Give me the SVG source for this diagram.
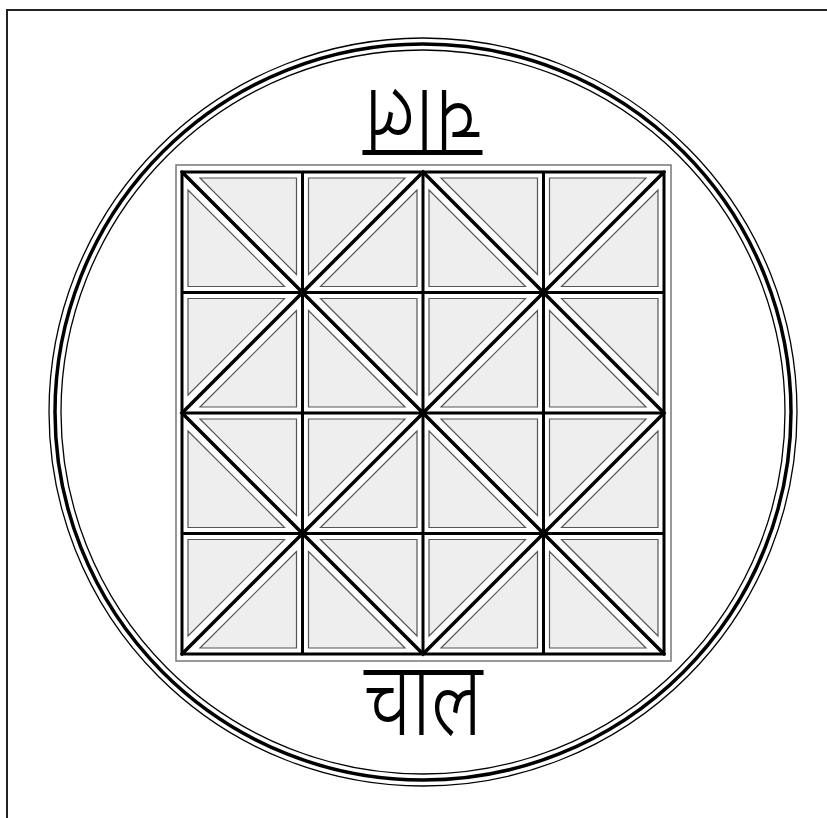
<svg xmlns="http://www.w3.org/2000/svg" xmlns:xlink="http://www.w3.org/1999/xlink" width="827" height="818" viewBox="0 0 827 818">
<style>
.tri{fill:#eeeeee;stroke:#555555;stroke-width:1.2}
.grid{stroke:#000;stroke-width:3;stroke-linecap:square;fill:none}
.diag{stroke:#000;stroke-width:3.5;stroke-linecap:round;fill:none}
.ring{fill:none;stroke:#000}
.lbl{font-family:"Noto Sans Devanagari","Lohit Devanagari","FreeSans","Noto Sans",sans-serif;font-size:80px;font-weight:300;fill:#000;text-anchor:middle}
</style>
<defs>
<g id="cellA">
<polygon class="tri" points="18,6 114.5,6 114.5,102.5"/>
<polygon class="tri" points="6,18 6,114.5 102.5,114.5"/>
</g>
<g id="cellB">
<polygon class="tri" points="102.5,6 6,6 6,102.5"/>
<polygon class="tri" points="114.5,18 114.5,114.5 18,114.5"/>
</g>
</defs>
<rect width="827" height="818" fill="#fff"/>
<rect id="border" x="7" y="10" width="900" height="900" fill="none" stroke="#222" stroke-width="2"/>
<g id="rings">
<circle class="ring" cx="423" cy="412" r="374" stroke-width="1.3"/>
<circle class="ring" cx="423" cy="412" r="368" stroke-width="3.5"/>
<circle class="ring" cx="423" cy="412" r="362" stroke-width="1.3"/>
</g>
<rect id="frame" x="176" y="165" width="495" height="496" fill="#fff" stroke="#777" stroke-width="1.5"/>
<g id="cells">
<use id="c00" xlink:href="#cellA" x="182" y="172"/>
<use id="c01" xlink:href="#cellB" x="302.5" y="172"/>
<use id="c02" xlink:href="#cellA" x="423" y="172"/>
<use id="c03" xlink:href="#cellB" x="543.5" y="172"/>
<use id="c10" xlink:href="#cellB" x="182" y="292.5"/>
<use id="c11" xlink:href="#cellA" x="302.5" y="292.5"/>
<use id="c12" xlink:href="#cellB" x="423" y="292.5"/>
<use id="c13" xlink:href="#cellA" x="543.5" y="292.5"/>
<use id="c20" xlink:href="#cellA" x="182" y="413"/>
<use id="c21" xlink:href="#cellB" x="302.5" y="413"/>
<use id="c22" xlink:href="#cellA" x="423" y="413"/>
<use id="c23" xlink:href="#cellB" x="543.5" y="413"/>
<use id="c30" xlink:href="#cellB" x="182" y="533.5"/>
<use id="c31" xlink:href="#cellA" x="302.5" y="533.5"/>
<use id="c32" xlink:href="#cellB" x="423" y="533.5"/>
<use id="c33" xlink:href="#cellA" x="543.5" y="533.5"/>
</g>
<g id="lines">
<path class="grid" d="M182,172V654M302.5,172V654M423,172V654M543.5,172V654M664,172V654M182,172H664M182,292.5H664M182,413H664M182,533.5H664M182,654H664"/>
<path class="diag" d="M182,172L423,413L182,654M423,172L664,413L423,654M182,413L302.5,292.5L423,413L302.5,533.5Z M423,413L543.5,292.5L664,413L543.5,533.5Z M302.5,292.5L423,172L543.5,292.5 M302.5,533.5L423,654L543.5,533.5 M543.5,292.5L664,172 M543.5,533.5L664,654"/>
</g>
<g id="labels">
<g id="label-bottom" transform="translate(0,675) scale(1,1.3) translate(0,-675)">
<text class="lbl" x="423" y="721">चाल</text>
</g>
<g id="label-top" transform="rotate(180 423 412.5)">
<g transform="translate(0,675) scale(1,1.3) translate(0,-675)">
<text class="lbl" x="423" y="721">चाल</text>
</g>
</g>
</g>
</svg>
